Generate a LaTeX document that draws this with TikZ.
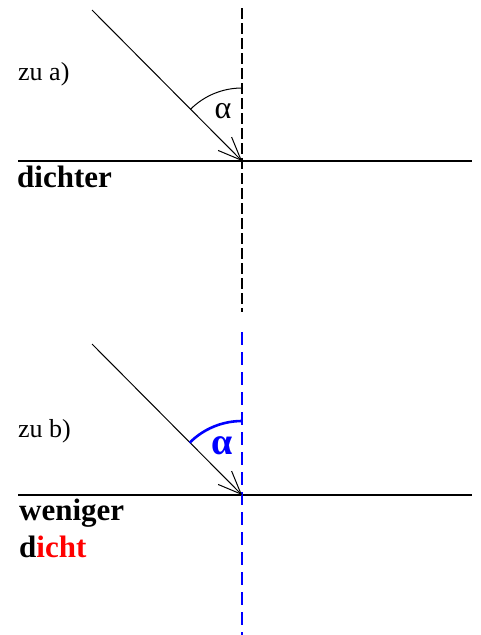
\documentclass[tikz,border=0pt]{standalone}
\usepackage{fontspec}
\setmainfont{Liberation Serif}
\usetikzlibrary{arrows.meta}
\definecolor{pureblue}{RGB}{0,0,255}
\definecolor{purered}{RGB}{255,0,0}
\begin{document}
\begin{tikzpicture}[x=1pt,y=-1pt,
  ray/.style={line width=1pt,-{Straight Barb[length=23pt,width=19pt,line width=1pt]}},
  surface/.style={line width=2.4pt},
  normalA/.style={line width=1.2pt,dash pattern=on 11pt off 4pt},
  normalB/.style={line width=2.4pt,pureblue,dash pattern=on 13pt off 7pt},
  arcA/.style={line width=1pt},
  arcB/.style={line width=2.6pt,pureblue},
  small/.style={inner sep=0pt,anchor=base west,font=\fontsize{26}{26}\selectfont},
  big/.style={inner sep=0pt,anchor=base west,font=\fontsize{31}{37}\selectfont\bfseries},
  angA/.style={inner sep=0pt,font=\fontsize{32}{32}\selectfont},
  angB/.style={inner sep=0pt,text=pureblue,font=\fontsize{38}{38}\selectfont\bfseries}]
\useasboundingbox (0,0) rectangle (480,635);
% part a
\coordinate (NA1) at (242,8);
\coordinate (NA2) at (242,312);
\coordinate (SA1) at (18,161);
\coordinate (SA2) at (472,161);
\coordinate (RA) at (92,10);
\coordinate (PA) at (242,161);
\draw[normalA] (NA1) -- (NA2);
\draw[surface] (SA1) -- (SA2);
\draw[ray] (RA) -- (PA);
\draw[arcA] (PA) ++(225:73) arc[start angle=225,end angle=270,radius=73];
\node[angA] (alphaA) at (223,111) {α};
\node[small] (zua) at (18,80) {zu a)};
\node[big] (dichter) at (17,187) {dichter};
% part b
\coordinate (NB1) at (242,332);
\coordinate (NB2) at (242,635);
\coordinate (SB1) at (18,495);
\coordinate (SB2) at (472,495);
\coordinate (RB) at (92,344);
\coordinate (PB) at (242,495);
\draw[surface,line width=2pt] (SB1) -- (SB2);
\draw[normalB] (NB1) -- (NB2);
\draw[ray] (RB) -- (PB);
\draw[arcB] (PB) ++(225:74) arc[start angle=225,end angle=270,radius=74];
\node[angB] (alphaB) at (222,446) {α};
\node[small] (zub) at (18,437) {zu b)};
\node[big] (weniger) at (19,520) {weniger};
\node[big] (dicht) at (19,557) {d\textcolor{purered}{icht}};
\end{tikzpicture}
\end{document}
